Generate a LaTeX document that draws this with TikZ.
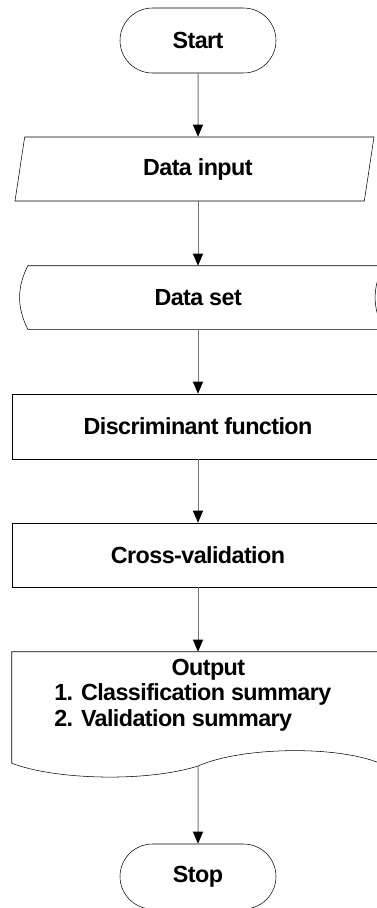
\documentclass[tikz,border=0pt]{standalone}
\usepackage{fontspec}
\setmainfont{Liberation Sans}[LetterSpace=-2.5]
\usetikzlibrary{shapes.geometric, shapes.misc, arrows.meta}

\begin{document}
\begin{tikzpicture}[x=0.75pt, y=-0.75pt]
    % Define styles
    \tikzset{
        base/.style={
            font=\fontsize{17.5}{20}\selectfont\bfseries,
            align=center,
            inner sep=0pt
        },
        terminal/.style={
            base,
            draw,
            rounded rectangle,
            minimum width=117pt,
            minimum height=48.75pt
        },
        inputbox/.style={
            base,
            draw,
            trapezium,
            trapezium stretches body,
            trapezium left angle=66,
            trapezium right angle=114,
            minimum width=269.25pt,
            minimum height=48pt
        },
        process/.style={
            base,
            draw,
            rectangle,
            minimum width=279pt,
            minimum height=48.75pt
        },
        plainbox/.style={
            base,
            rectangle,
            minimum width=279pt
        },
        arrow/.style={
            -{Triangle[length=9pt, width=7.5pt, color=black]},
            draw=black!55,
            line width=0.75pt
        }
    }

    \useasboundingbox (0,0) rectangle (376,908);

    % Start and data input
    \node[terminal] (start) at (198,40.5) {Start};
    \node[inputbox] (input) at (194.5,169) {\hspace*{5pt}Data input};

    % Stored data set
    \node[base, minimum width=272.25pt, minimum height=47.25pt] (dataset) at (201.5,297.5) {\hspace*{-5pt}Data set};
    \draw ([xshift=6pt]dataset.north west) -- (dataset.north east)
        to[bend right=26] (dataset.south east)
        -- ([xshift=6pt]dataset.south west)
        to[bend left=26] cycle;

    % Processing steps
    \node[process] (discrim) at (198,426.5) {Discriminant function};
    \node[process, minimum height=48pt] (crossval) at (198,555) {Cross-validation};

    % Output document
    \node[plainbox, minimum height=84.75pt] (output) at (198,708.5) {};
    \node[base, align=left, anchor=north west] (outtext) at (54,659) {\hspace*{88pt}Output\\[-1pt]1. Classification summary\\[-1pt]2. Validation summary};
    \coordinate (outbot) at (198,766);
    \draw (output.north west) -- (output.north east) -- (output.south east)
        .. controls +(-40,-20) and +(45,-20) .. (outbot)
        .. controls +(-50,16) and +(45,17) .. ([yshift=1.5pt]output.south west) -- cycle;

    % Stop
    \node[terminal] (stop) at (198,876.5) {Stop};

    % Connections
    \draw[arrow] (start) -- (input.north -| start);
    \draw[arrow] (input.south -| start) -- (dataset.north -| start);
    \draw[arrow] (dataset.south -| start) -- (discrim);
    \draw[arrow] (discrim) -- (crossval);
    \draw[arrow] (crossval) -- (output);
    \draw[arrow] (outbot) -- (stop);
\end{tikzpicture}
\end{document}
